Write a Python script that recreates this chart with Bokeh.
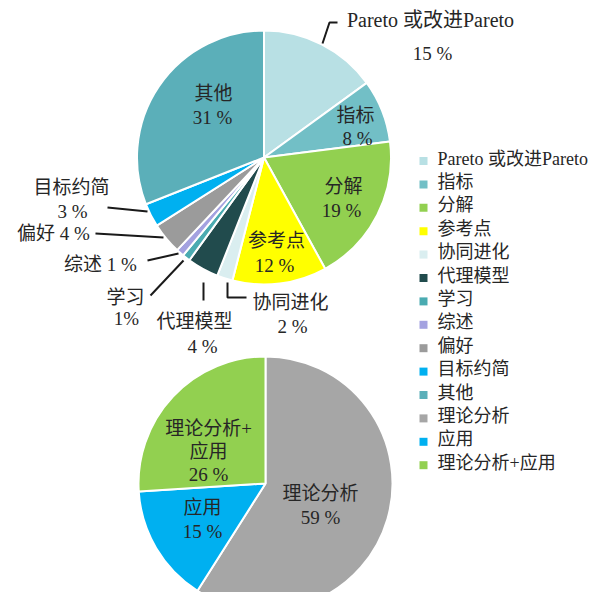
import math
from bokeh.plotting import figure
from bokeh.models import Range1d, ColumnDataSource
from bokeh.core.properties import value
from bokeh.embed import file_html
from bokeh.resources import INLINE

# ---- data ----
top_names = ["Pareto 或改进Pareto", "指标", "分解", "参考点", "协同进化", "代理模型",
             "学习", "综述", "偏好", "目标约简", "其他"]
top_values = [15, 8, 19, 12, 2, 4, 1, 1, 4, 3, 31]
top_colors = ["#b8e0e4", "#72bfc6", "#92d050", "#ffff00", "#daeef0", "#214b4d",
              "#4aabb1", "#a4a2e0", "#9b9b9b", "#00b0f0", "#5bafb9"]

bot_names = ["理论分析", "应用", "理论分析+应用"]
bot_values = [59, 15, 26]
bot_colors = ["#a6a6a6", "#00b0f0", "#92d050"]

FONT = value("Liberation Serif, Noto Sans CJK SC, serif")
TXT = "#262626"

W, H = 597, 592
p = figure(width=W, height=H, output_backend="svg", toolbar_location=None,
           x_range=Range1d(0, W), y_range=Range1d(608 - H, 608), min_border=0)
p.axis.visible = False
p.grid.visible = False
p.outline_line_color = None
p.background_fill_color = "white"

def Y(img_y):
    return 608 - img_y

def pie(cx, cy, r, vals, colors):
    tot = float(sum(vals))
    cum = 0.0
    starts, ends = [], []
    for v in vals:
        a0 = math.pi / 2 - 2 * math.pi * (cum + v) / tot
        a1 = math.pi / 2 - 2 * math.pi * cum / tot
        starts.append(a0)
        ends.append(a1)
        cum += v
    src = ColumnDataSource(dict(start=starts, end=ends, color=colors))
    p.wedge(x=cx, y=Y(cy), radius=r, start_angle="start", end_angle="end",
            fill_color="color", line_color="white", line_width=2, source=src)

pie(263.5, 157, 127, top_values, top_colors)
pie(265, 483, 127, bot_values, bot_colors)

def label(x, y, s, size="19px", align="center"):
    p.text(x=[x], y=[Y(y)], text=[s], text_font=FONT, text_font_size=size,
           text_color=TXT, text_align=align, text_baseline="middle")

def pct(v):
    return "%d %%" % v

# top pie labels
label(430, 19, top_names[0], "20px")
label(432, 53, pct(top_values[0]), "19px")
label(355, 115, top_names[1]); label(357, 138, pct(top_values[1]))
label(343, 186, top_names[2]); label(341, 210, pct(top_values[2]))
label(276, 240, top_names[3]); label(274, 265, pct(top_values[3]))
label(213, 93, top_names[10]); label(212, 117, pct(top_values[10]))
label(290, 302, top_names[4]); label(292, 326, pct(top_values[4]))
label(194, 321, top_names[5]); label(202, 346, pct(top_values[5]))
label(125, 297, top_names[6]); label(126, 318, "%d%%" % top_values[6])
label(100, 264, top_names[7] + " " + pct(top_values[7]))
label(53, 233, top_names[8] + " " + pct(top_values[8]))
label(71, 187, top_names[9]); label(72, 211, pct(top_values[9]))

# leader lines
lines = [
    ([322, 329, 337], [43, 22, 22]),
    ([227, 227, 246], [282, 297, 297]),
    ([203, 203], [282, 300]),
    ([150, 183], [295, 260]),
    ([147, 178], [260, 253]),
    ([95, 163], [233, 237]),
    ([107, 147], [207, 211]),
]
for xs, ys in lines:
    p.line(xs, [Y(v) for v in ys], line_color="#1a1a1a", line_width=2)

# bottom pie labels
label(208, 428, "理论分析+")
label(208, 451, "应用")
label(208, 474, pct(bot_values[2]))
label(202, 507, bot_names[1]); label(202, 531, pct(bot_values[1]))
label(320, 493, bot_names[0]); label(320, 517, pct(bot_values[0]))

# legend
leg_names = top_names + bot_names
leg_colors = top_colors + bot_colors
ys = [160.5 + 23.4 * i for i in range(len(leg_names))]
p.scatter(x=[423] * len(ys), y=[Y(v) for v in ys], marker="square", size=8,
          fill_color=leg_colors, line_color=None)
p.text(x=[437] * len(ys), y=[Y(v - 2.5) for v in ys], text=leg_names, text_font=FONT,
       text_font_size="18px", text_color=TXT, text_align="left", text_baseline="middle")

open("out.html", "w").write(file_html(p, INLINE))
